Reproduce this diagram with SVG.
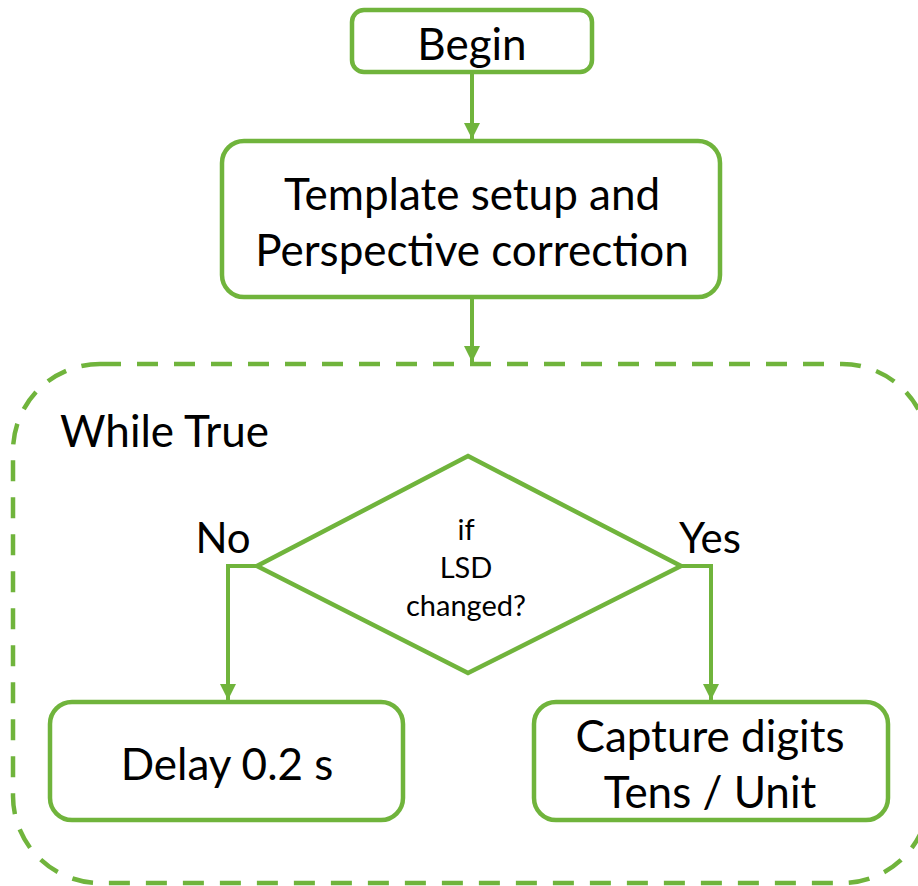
<svg xmlns="http://www.w3.org/2000/svg" width="918" height="886" viewBox="0 0 918 886">
<defs>
<style>
.box{fill:#fff;stroke:#70B43C;stroke-width:4.5}
.ln{fill:none;stroke:#70B43C;stroke-width:4}
.t{font-family:Lato,"Open Sans","Liberation Sans",sans-serif;fill:#000;text-anchor:middle}
.big{font-size:44px}
.mid{font-size:42px}
.sm{font-size:29px}
</style>
<marker id="ah" viewBox="0 0 10 10" refX="10" refY="5" markerWidth="4" markerHeight="4" orient="auto" markerUnits="strokeWidth">
<path d="M0,0 L10,5 L0,10 z" fill="#70B43C"/>
</marker>
</defs>
<rect width="918" height="886" fill="#fff"/>
<g id="loop">
<rect x="13" y="364" width="916" height="519" rx="87" ry="87" fill="none" stroke="#70B43C" stroke-width="4.5" stroke-dasharray="21,16"/>
<text class="t big" x="60" y="447" style="text-anchor:start">While True</text>
</g>
<g id="connectors">
<line class="ln" x1="472" y1="72" x2="472" y2="139" marker-end="url(#ah)"/>
<line class="ln" x1="472" y1="297" x2="472" y2="362" marker-end="url(#ah)"/>
<polyline class="ln" points="257,566 228,566 228,700" marker-end="url(#ah)"/>
<polyline class="ln" points="681,566 711,566 711,700" marker-end="url(#ah)"/>
</g>
<g id="begin">
<rect class="box" x="352" y="10" width="240" height="62" rx="12"/>
<text class="t big" x="472" y="60">Begin</text>
</g>
<g id="template">
<rect class="box" x="222" y="141" width="498" height="156" rx="22"/>
<text class="t big" x="472" y="210">Template setup and</text>
<text class="t big" x="472" y="266">Perspective correction</text>
</g>
<g id="decision">
<polygon class="box" points="468,456 681,566 468,673 257,566"/>
<text class="t sm" x="466" y="540">if</text>
<text class="t sm" x="466" y="578">LSD</text>
<text class="t sm" x="466" y="616">changed?</text>
</g>
<g id="no-label"><text class="t mid" x="223" y="553">No</text></g>
<g id="yes-label"><text class="t mid" x="710" y="553">Yes</text></g>
<g id="delay">
<rect class="box" x="50" y="702" width="353" height="118" rx="22"/>
<text class="t big" x="227" y="780">Delay 0.2 s</text>
</g>
<g id="capture">
<rect class="box" x="534" y="702" width="354" height="118" rx="22"/>
<text class="t big" x="710" y="752">Capture digits</text>
<text class="t big" x="710" y="808">Tens / Unit</text>
</g>
</svg>
